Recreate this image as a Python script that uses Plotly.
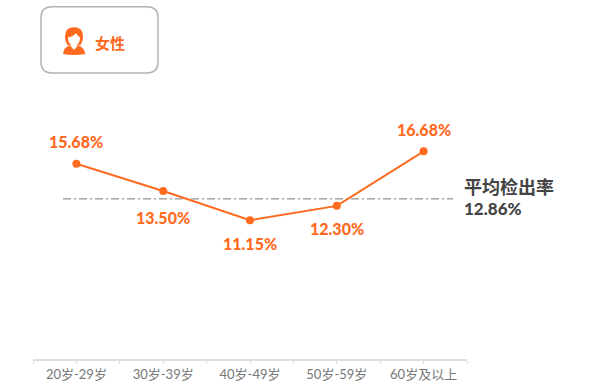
import plotly.graph_objects as go

W, H = 602, 390
categories = ["20岁-29岁", "30岁-39岁", "40岁-49岁", "50岁-59岁", "60岁及以上"]
values = [15.68, 13.50, 11.15, 12.30, 16.68]
value_labels = ["15.68%", "13.50%", "11.15%", "12.30%", "16.68%"]
label_shifts = [22, -27, -23, -23, 22]
average = 12.86
average_title = "平均检出率"
average_label = "12.86%"
badge_text = "女性"

ORANGE = "#ff6a1f"
GREY = "#777777"
DARK = "#444444"
FONT = "Noto Sans CJK SC"
NUMFONT = "Lato, Noto Sans CJK SC"

L, R, T, B = 33, 135, 110, 30.5
idx = list(range(len(categories)))

fig = go.Figure()
fig.add_trace(go.Scatter(
    x=[-0.155, 4.34], y=[average, average], mode="lines", hoverinfo="skip",
    line=dict(color="#777777", width=1, dash="8px 3px 2px 3px"),
))
fig.add_trace(go.Scatter(
    x=idx, y=values, mode="lines+markers",
    line=dict(color=ORANGE, width=2),
    marker=dict(color=ORANGE, size=8),
    cliponaxis=False,
))

def px(x):
    return (x - L) / (W - L - R)

def py(y):
    return 1 - (y - T) / (H - T - B)

def path(*items):
    s = ""
    for it in items:
        s += (it + " ") if isinstance(it, str) else f"{px(it[0]):.5f},{py(it[1]):.5f} "
    return s.strip()

def rounded(x0, y0, x1, y1, r):
    return path("M", (x0 + r, y0), "L", (x1 - r, y0), "Q", (x1, y0), (x1, y0 + r),
                "L", (x1, y1 - r), "Q", (x1, y1), (x1 - r, y1),
                "L", (x0 + r, y1), "Q", (x0, y1), (x0, y1 - r),
                "L", (x0, y0 + r), "Q", (x0, y0), (x0 + r, y0), "Z")

shapes = [
    dict(type="path", xref="paper", yref="paper", path=rounded(41, 6.5, 158, 73, 11),
         line=dict(color="#b4b4b4", width=1.5), fillcolor="white"),
    # hair
    dict(type="path", xref="paper", yref="paper", line=dict(width=0), fillcolor=ORANGE,
         path=path("M", (74, 27), "Q", (83, 27), (83, 36), "Q", (83, 42), (80, 45),
                   "L", (68, 45), "Q", (65, 42), (65, 36), "Q", (65, 27), (74, 27), "Z")),
    # face
    dict(type="path", xref="paper", yref="paper", line=dict(width=0), fillcolor="white",
         path=path("M", (68, 37), "Q", (72, 37), (76, 33), "Q", (78, 36), (80, 37),
                   "Q", (80, 45), (74, 46), "Q", (68, 45), (68, 37), "Z")),
    # body
    dict(type="path", xref="paper", yref="paper", line=dict(width=0), fillcolor=ORANGE,
         path=path("M", (63, 54), "L", (64, 50), "Q", (65, 47), (70, 45), "L", (74, 50), "L", (78, 45),
                   "Q", (83, 47), (84, 50), "L", (85.5, 54), "Q", (74, 56), (63, 54), "Z")),
]

annotations = [
    dict(xref="x", yref="y", x=i, y=v, text=t, yshift=s, showarrow=False,
         xanchor="center", yanchor="middle",
         font=dict(size=16, color=ORANGE, family=NUMFONT, weight=900))
    for i, v, t, s in zip(idx, values, value_labels, label_shifts)
]
annotations += [
    dict(xref="paper", yref="paper", x=px(92.5), y=py(42), text=badge_text, showarrow=False,
         xanchor="left", yanchor="middle",
         font=dict(size=15, color=ORANGE, family=FONT, weight=700)),
    dict(xref="paper", yref="paper", x=px(463), y=py(186), text=average_title, showarrow=False,
         xanchor="left", yanchor="middle", borderpad=0,
         font=dict(size=18, color=DARK, family=FONT, weight=700)),
    dict(xref="paper", yref="paper", x=px(463), y=py(209), text=average_label, showarrow=False,
         xanchor="left", yanchor="middle", borderpad=0,
         font=dict(size=17, color=DARK, family=NUMFONT, weight=900)),
]

fig.update_layout(
    width=W, height=H, autosize=False,
    margin=dict(l=L, r=R, t=T, b=B, pad=0),
    paper_bgcolor="white", plot_bgcolor="white",
    showlegend=False,
    font=dict(family=FONT),
    shapes=shapes,
    annotations=annotations,
    xaxis=dict(
        range=[-0.5, 4.5], tickmode="array", tickvals=idx, ticktext=categories,
        automargin=False,
        showgrid=False, zeroline=False, showline=True, linecolor="#dddddd", linewidth=1.5,
        ticks="outside", ticklen=3, tickcolor="#dddddd", tickwidth=1,
        tickfont=dict(size=13, color=GREY, family=NUMFONT),
        minor=dict(tick0=-0.5, dtick=1, ticks="outside", ticklen=3, tickcolor="#dddddd", tickwidth=1, showgrid=False),
    ),
    yaxis=dict(range=[0, 20], visible=False, fixedrange=True, automargin=False),
)
fig.write_html("out.html", config={"displayModeBar": False},
               post_script="document.body.style.margin='0';document.body.style.overflow='hidden';")
